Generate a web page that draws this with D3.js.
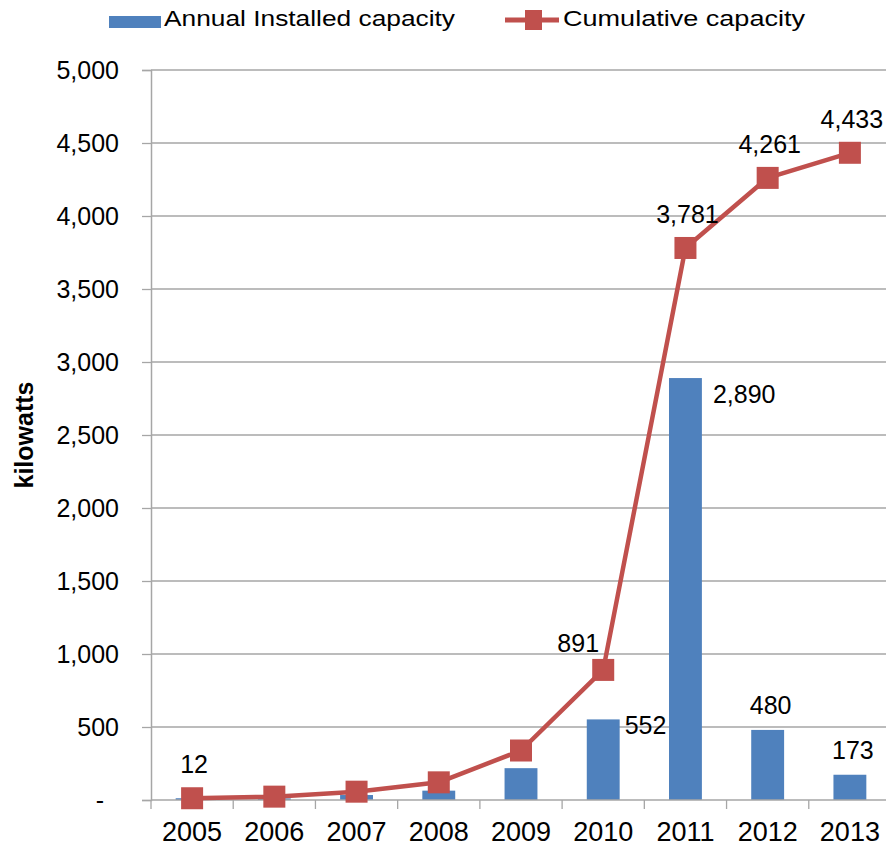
<!DOCTYPE html>
<html>
<head>
<meta charset="utf-8">
<script src="https://cdn.jsdelivr.net/npm/d3@7"></script>
<style>
  html, body { margin: 0; padding: 0; background: #fff; }
  svg { display: block; font-family: "Liberation Sans", Arial, sans-serif; }
</style>
</head>
<body>
<svg id="chart" width="886" height="847"></svg>
<script>
// Solar PV capacity, kilowatts
const years = ["2005", "2006", "2007", "2008", "2009", "2010", "2011", "2012", "2013"];
const annualInstalled = [12, 11, 34, 64, 218, 552, 2890, 480, 173];
const cumulative = [12, 23, 57, 121, 339, 891, 3781, 4261, 4433];
const yTicks = [0, 500, 1000, 1500, 2000, 2500, 3000, 3500, 4000, 4500, 5000];
// which points carry a value label
const annualLabelled = ["2010", "2011", "2012", "2013"];
const cumulativeLabelled = ["2005", "2010", "2011", "2012", "2013"];

const BAR = "#4F81BD", LINE = "#C0504D", GRID = "#A6A6A6";
const svg = d3.select("#chart");
const plotL = 151, plotR = 891, plotT = 70, plotB = 800;

const x = d3.scaleBand().domain(years).range([plotL, plotR]).paddingInner(0.6).paddingOuter(0.3);
const xc = d => x(d) + x.bandwidth() / 2;
const y = d3.scaleLinear().domain([0, 5000]).range([plotB, plotT]);
const fmt = d3.format(",");

// horizontal gridlines
svg.append("g").selectAll("line").data(yTicks.filter(v => v > 0)).join("line")
  .attr("x1", plotL).attr("x2", plotR)
  .attr("y1", d => y(d)).attr("y2", d => y(d))
  .attr("stroke", GRID).attr("stroke-width", 1.3);

// y axis
const yAxis = svg.append("g").attr("transform", `translate(${plotL},0)`)
  .call(d3.axisLeft(y).tickValues(yTicks).tickSize(9).tickPadding(23)
    .tickFormat(d => d === 0 ? "-" : fmt(d)));
yAxis.select(".domain").attr("stroke", GRID).attr("stroke-width", 1.5);
yAxis.selectAll(".tick line").attr("stroke", GRID).attr("stroke-width", 1.3);
yAxis.selectAll(".tick text")
  .attr("font-size", 25).attr("fill", "#000")
  .attr("font-family", "Liberation Sans, Arial, sans-serif")
  .attr("dx", d => d === 0 ? -15 : 0);

// bars
svg.append("g").selectAll("rect").data(years).join("rect")
  .attr("x", d => x(d)).attr("width", x.bandwidth())
  .attr("y", (d, i) => y(annualInstalled[i]))
  .attr("height", (d, i) => y(0) - y(annualInstalled[i]))
  .attr("fill", BAR);

// x axis: line with ticks at category boundaries
const step = x.step();
const boundaries = d3.range(years.length + 1).map(i => plotL + i * step);
svg.append("line").attr("x1", plotL).attr("x2", plotR).attr("y1", plotB).attr("y2", plotB)
  .attr("stroke", GRID).attr("stroke-width", 1.5);
svg.append("g").selectAll("line").data(boundaries).join("line")
  .attr("x1", d => d).attr("x2", d => d).attr("y1", plotB).attr("y2", plotB + 9)
  .attr("stroke", GRID).attr("stroke-width", 1.3);
svg.append("g").selectAll("text").data(years).join("text")
  .attr("x", d => xc(d)).attr("y", 841)
  .attr("text-anchor", "middle").attr("font-size", 27).attr("fill", "#000")
  .text(d => d);

// cumulative line with square markers
const line = d3.line().x((d, i) => xc(years[i])).y(d => y(d));
svg.append("path").datum(cumulative).attr("d", line)
  .attr("fill", "none").attr("stroke", LINE).attr("stroke-width", 4.5)
  .attr("stroke-linejoin", "round");
const M = 22;
svg.append("g").selectAll("rect").data(cumulative).join("rect")
  .attr("x", (d, i) => xc(years[i]) - M / 2).attr("y", d => y(d) - M / 2)
  .attr("width", M).attr("height", M).attr("fill", LINE);

// value labels
const labels = svg.append("g").attr("font-size", 25).attr("fill", "#000");
years.forEach((yr, i) => {
  if (cumulativeLabelled.includes(yr)) {
    const v = cumulative[i];
    const dx = yr === "2010" ? -25 : 2;
    const dy = yr === "2010" ? -18 : -25;
    labels.append("text").attr("x", xc(yr) + dx).attr("y", y(v) + dy)
      .attr("text-anchor", "middle").text(fmt(v));
  }
  if (annualLabelled.includes(yr)) {
    const v = annualInstalled[i];
    if (yr === "2010" || yr === "2011") {
      // beside the bar
      const dy = yr === "2010" ? 15 : 25;
      labels.append("text").attr("x", x(yr) + x.bandwidth() + (yr === "2010" ? 5 : 11))
        .attr("y", y(v) + dy).attr("text-anchor", "start").text(fmt(v));
    } else {
      labels.append("text").attr("x", xc(yr) + 3).attr("y", y(v) - 16)
        .attr("text-anchor", "middle").text(fmt(v));
    }
  }
});

// y axis title
svg.append("text").attr("transform", "translate(33,435) rotate(-90)")
  .attr("text-anchor", "middle").attr("font-size", 25).attr("font-weight", "bold")
  .attr("fill", "#000").text("kilowatts");

// legend
const lg = svg.append("g");
lg.append("rect").attr("x", 109).attr("y", 16).attr("width", 52).attr("height", 12).attr("fill", BAR);
lg.append("text").attr("x", 164).attr("y", 26).attr("font-size", 22)
  .attr("textLength", 291).attr("lengthAdjust", "spacingAndGlyphs")
  .attr("fill", "#000").text("Annual Installed capacity");
lg.append("line").attr("x1", 505).attr("x2", 559).attr("y1", 20).attr("y2", 20)
  .attr("stroke", LINE).attr("stroke-width", 5);
lg.append("rect").attr("x", 525).attr("y", 10).attr("width", 17).attr("height", 20).attr("fill", LINE);
lg.append("text").attr("x", 563).attr("y", 26).attr("font-size", 22)
  .attr("textLength", 242).attr("lengthAdjust", "spacingAndGlyphs")
  .attr("fill", "#000").text("Cumulative capacity");
</script>
</body>
</html>
